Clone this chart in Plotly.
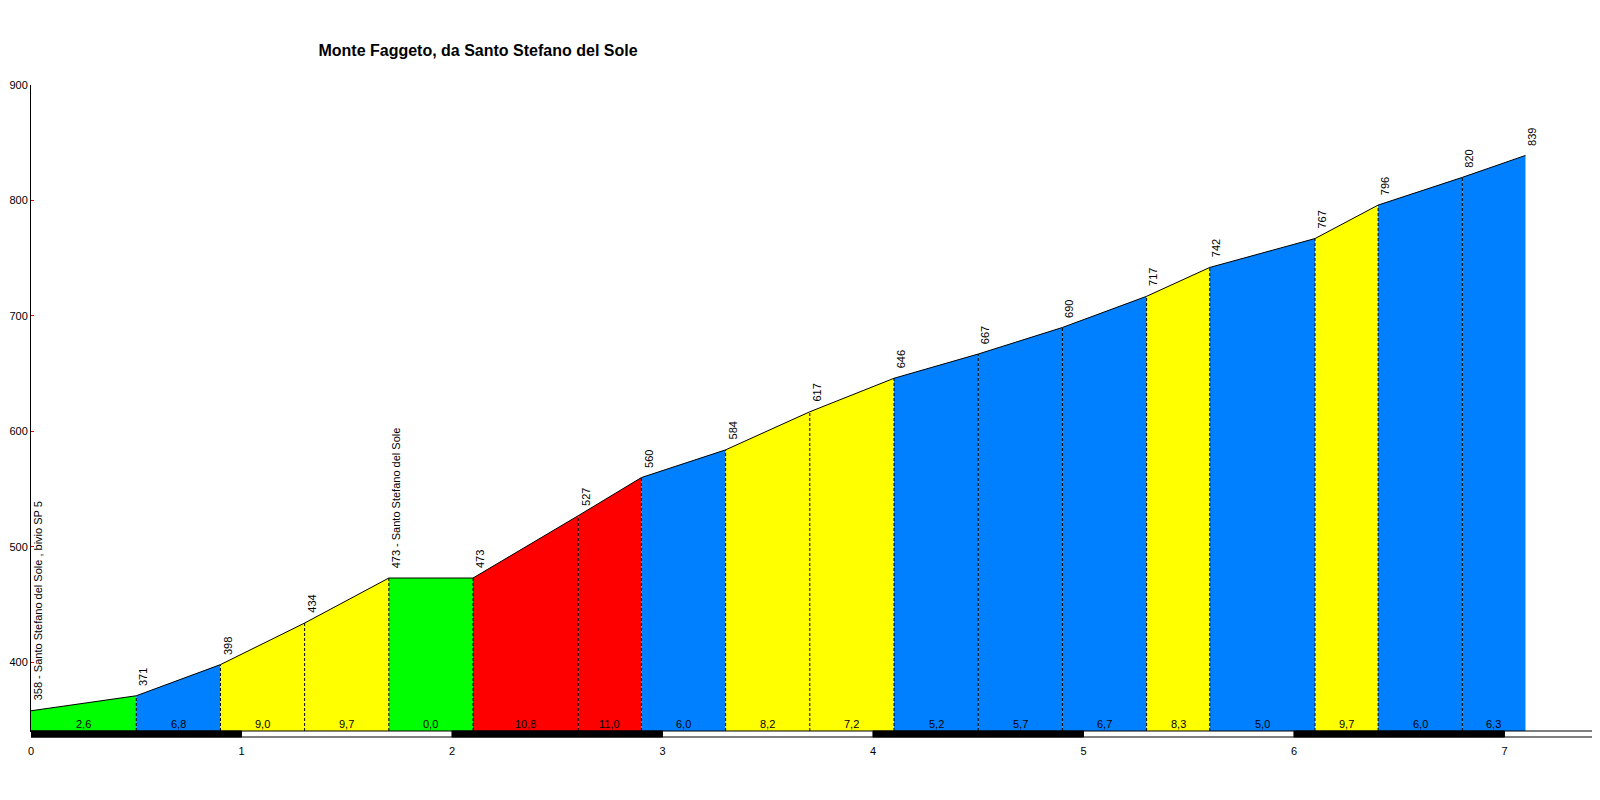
import plotly.graph_objects as go

# ---- data ----
km = [0, 0.5, 0.9, 1.3, 1.7, 2.1, 2.6, 2.9, 3.3, 3.7, 4.1, 4.5, 4.9, 5.3, 5.6, 6.1, 6.4, 6.8, 7.1]
elev = [358, 371, 398, 434, 473, 473, 527, 560, 584, 617, 646, 667, 690, 717, 742, 767, 796, 820, 839]
grad = [2.6, 6.8, 9.0, 9.7, 0.0, 10.8, 11.0, 6.0, 8.2, 7.2, 5.2, 5.7, 6.7, 8.3, 5.0, 9.7, 6.0, 6.3]
place_names = {0: "Santo Stefano del Sole , bivio SP 5", 4: "Santo Stefano del Sole"}
x_ticks = [0, 1, 2, 3, 4, 5, 6, 7]
y_ticks = [400, 500, 600, 700, 800, 900]
title = "Monte Faggeto, da Santo Stefano del Sole"

# ---- layout constants (page body has an 8px margin) ----
OFF = 8
W, H = 1600 - OFF, 800 - OFF
ML, MR, MT, MB = 31 - OFF, 0, 85 - OFF, 69
Y_MIN, Y_MAX = 340.5, 900
X_MAX = 7.454
FONT = "Liberation Sans, Arial, sans-serif"


def grad_color(g):
    if g < 4:
        return "#00FF00"
    if g < 7:
        return "#0080FF"
    if g < 10:
        return "#FFFF00"
    return "#FF0000"


fig = go.Figure()

# coloured segments
for i in range(len(grad)):
    fig.add_trace(go.Scatter(
        x=[km[i], km[i + 1]], y=[elev[i], elev[i + 1]],
        mode="lines", line=dict(width=0), fill="tozeroy",
        fillcolor=grad_color(grad[i]), hoverinfo="skip", showlegend=False))

# dashed separators
dx, dy = [], []
for i in range(1, len(km) - 1):
    dx += [km[i], km[i], None]
    dy += [Y_MIN, elev[i], None]
fig.add_trace(go.Scatter(x=dx, y=dy, mode="lines",
                         line=dict(color="black", width=1, dash="3px,2px"),
                         hoverinfo="skip", showlegend=False))

# profile line
fig.add_trace(go.Scatter(x=km, y=elev, mode="lines",
                         line=dict(color="black", width=1),
                         hoverinfo="skip", showlegend=False))

annotations = []
# elevation labels
for i, (k, e) in enumerate(zip(km, elev)):
    txt = f"{e}" + (f" - {place_names[i]}" if i in place_names else "")
    annotations.append(dict(x=k, y=e, xref="x", yref="y", text=txt, showarrow=False,
                            textangle=-90, xanchor="center", yanchor="bottom",
                            xshift=7, yshift=8,
                            font=dict(family=FONT, size=11, color="black")))
# gradient labels
for i, g in enumerate(grad):
    annotations.append(dict(x=(km[i] + km[i + 1]) / 2, y=Y_MIN, xref="x", yref="y",
                            text=f"{g:.1f}".replace(".", ","), showarrow=False,
                            xanchor="center", yanchor="bottom", yshift=-1,
                            font=dict(family=FONT, size=11, color="black")))

# distance band below the axis
plot_h = H - MT - MB
band = 6 / plot_h
shapes = [dict(type="rect", xref="x", yref="paper", x0=0, x1=X_MAX, y0=-band, y1=0,
               fillcolor="white", line=dict(color="black", width=1), layer="above")]
for a, b in zip(x_ticks[:-1], x_ticks[1:]):
    if a % 2 == 0:
        shapes.append(dict(type="rect", xref="x", yref="paper", x0=a, x1=b, y0=-band, y1=0,
                           fillcolor="black", line=dict(color="black", width=1), layer="above"))

fig.update_layout(
    width=W, height=H,
    margin=dict(l=ML, r=MR, t=MT, b=MB, pad=0),
    paper_bgcolor="white", plot_bgcolor="white",
    title=dict(text=f"<b>{title}</b>", xref="container", yref="container",
               x=(478 - OFF) / W, y=1 - (50 - OFF) / H, xanchor="center", yanchor="middle",
               font=dict(family=FONT, size=16, color="black")),
    xaxis=dict(range=[0, X_MAX], showgrid=False, zeroline=False,
               showline=True, linecolor="black", linewidth=1,
               tickvals=x_ticks, ticktext=[str(t) for t in x_ticks],
               ticks="outside", ticklen=10, tickcolor="rgba(0,0,0,0)",
               tickfont=dict(family=FONT, size=11, color="black")),
    yaxis=dict(range=[Y_MIN, Y_MAX], showgrid=False, zeroline=False,
               showline=True, linecolor="black", linewidth=1,
               tickvals=y_ticks, ticktext=[str(t) for t in y_ticks],
               ticks="inside", ticklen=3, tickcolor="red",
               tickfont=dict(family=FONT, size=11, color="black")),
    annotations=annotations,
    shapes=shapes,
    showlegend=False,
)

fig.write_html("out.html")
